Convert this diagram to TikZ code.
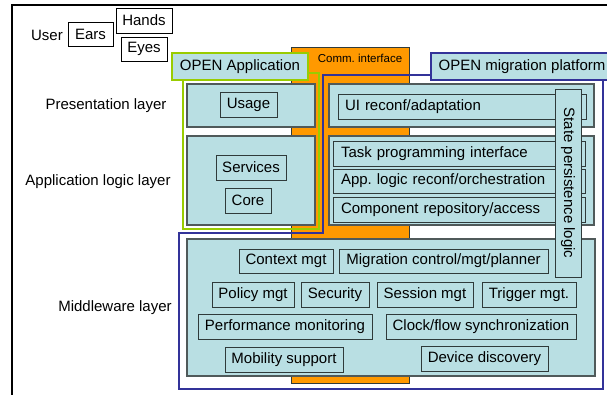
\documentclass[tikz,border=0pt]{standalone}
\usepackage{fontspec}
\setmainfont{Liberation Sans}
\definecolor{lb}{HTML}{B9DFE3}
\definecolor{orng}{HTML}{FF9900}
\definecolor{grn}{HTML}{99CC00}
\definecolor{blu}{HTML}{333399}
\definecolor{pbord}{HTML}{505A5A}
\definecolor{ibord}{HTML}{2F3A3A}
\tikzset{
  panel/.style={draw=pbord, fill=lb, line width=1.3pt},
  ibox/.style={draw=ibord, fill=lb, line width=0.9pt, inner sep=0pt, font=\fontsize{15}{17}\selectfont},
  wbox/.style={draw=black, fill=white, line width=0.9pt, inner sep=0pt, font=\fontsize{15}{17}\selectfont},
  lbl/.style={inner sep=0pt, font=\fontsize{15}{17}\selectfont},
  sml/.style={inner sep=0pt, font=\fontsize{11.5}{13}\selectfont},
}
\newcommand{\bx}[7]{% style, name, x1,y1,x2,y2, text
  \node[#1, minimum width={(#5)-(#3)}, minimum height={(#6)-(#4)}] (#2) at ({((#3)+(#5))/2},{((#4)+(#6))/2}) {#7};}
\begin{document}
\begin{tikzpicture}[x=1pt,y=-1pt]
\useasboundingbox (0,0) rectangle (607,394);
\clip (0,0) rectangle (607,394);
% outer frame
\draw[line width=2pt] (12,5) rectangle (640,420);
% user
\node[lbl] (user) at (47,35) {User};
\bx{wbox}{ears}{68}{22}{113}{46}{Ears}
\bx{wbox}{hands}{116}{8}{172}{33}{Hands}
\bx{wbox}{eyes}{121}{37}{167}{61}{Eyes}
% layer labels
\node[lbl] (pres) at (106,106) {Presentation layer};
\node[lbl] (appl) at (98,182) {Application logic layer};
\node[lbl] (midl) at (115,308) {Middleware layer};
% comm interface
\draw[fill=orng, draw=ibord, line width=0.9pt] (291,47) rectangle (409,383);
\node[sml] (comm) at (360,58) {Comm.\ interface};
% green frame
\draw[grn, line width=2.6pt] (183,73) rectangle (319,229);
% blue frame
\draw[blu, line width=2.6pt] (323,75) -- (603,75) -- (603,389) -- (179,389) -- (179,233) -- (323,233) -- cycle;
% labels of frames
\bx{ibox, draw=grn, line width=2.6pt}{openapp}{172}{53}{308}{80}{OPEN Application}
\bx{ibox, draw=blu, line width=2.6pt}{openmig}{431}{53}{613}{80}{OPEN migration platform}
% left panels
\draw[panel] (187,84) rectangle (315,127);
\bx{ibox}{usage}{220}{92}{277}{117}{Usage}
\draw[panel] (187,136) rectangle (315,225);
\bx{ibox}{services}{216}{155}{286}{180}{Services}
\bx{ibox}{core}{225}{188}{271}{213}{Core}
% right panels
\draw[panel] (329,84) rectangle (594,127);
\bx{ibox, text width=234pt, align=left}{ui}{338}{94}{586}{119}{UI reconf/adaptation}
\draw[panel] (329,136) rectangle (594,225);
\bx{ibox, text width=236pt, align=left}{task}{333}{141}{585}{166}{Task programming interface}
\bx{ibox, text width=236pt, align=left}{applog}{333}{169}{585}{193}{App.\ logic reconf/orchestration}
\bx{ibox, text width=236pt, align=left}{comp}{333}{197}{585}{222}{Component repository/access}
% middleware
\draw[panel] (187,239) rectangle (595,376);
\bx{ibox}{ctx}{239}{249}{333}{273}{Context mgt}
\bx{ibox}{migc}{339}{249}{548}{273}{Migration control/mgt/planner}
\bx{ibox}{pol}{212}{282}{294}{307}{Policy mgt}
\bx{ibox}{sec}{301}{282}{369}{307}{Security}
\bx{ibox}{sess}{377}{282}{473}{307}{Session mgt}
\bx{ibox}{trig}{482}{282}{576}{307}{Trigger mgt.}
\bx{ibox}{perf}{198}{314}{372}{339}{Performance monitoring}
\bx{ibox}{clock}{386}{314}{576}{339}{Clock/flow synchronization}
\bx{ibox}{mob}{225}{347}{343}{372}{Mobility support}
\bx{ibox}{dev}{421}{346}{548}{371}{Device discovery}
% state persistence
\draw[draw=ibord, fill=lb, line width=0.9pt] (555,89) rectangle (581,277);
\node[lbl, rotate=-90] (state) at (568,183) {State persistence logic};
\end{tikzpicture}
\end{document}
